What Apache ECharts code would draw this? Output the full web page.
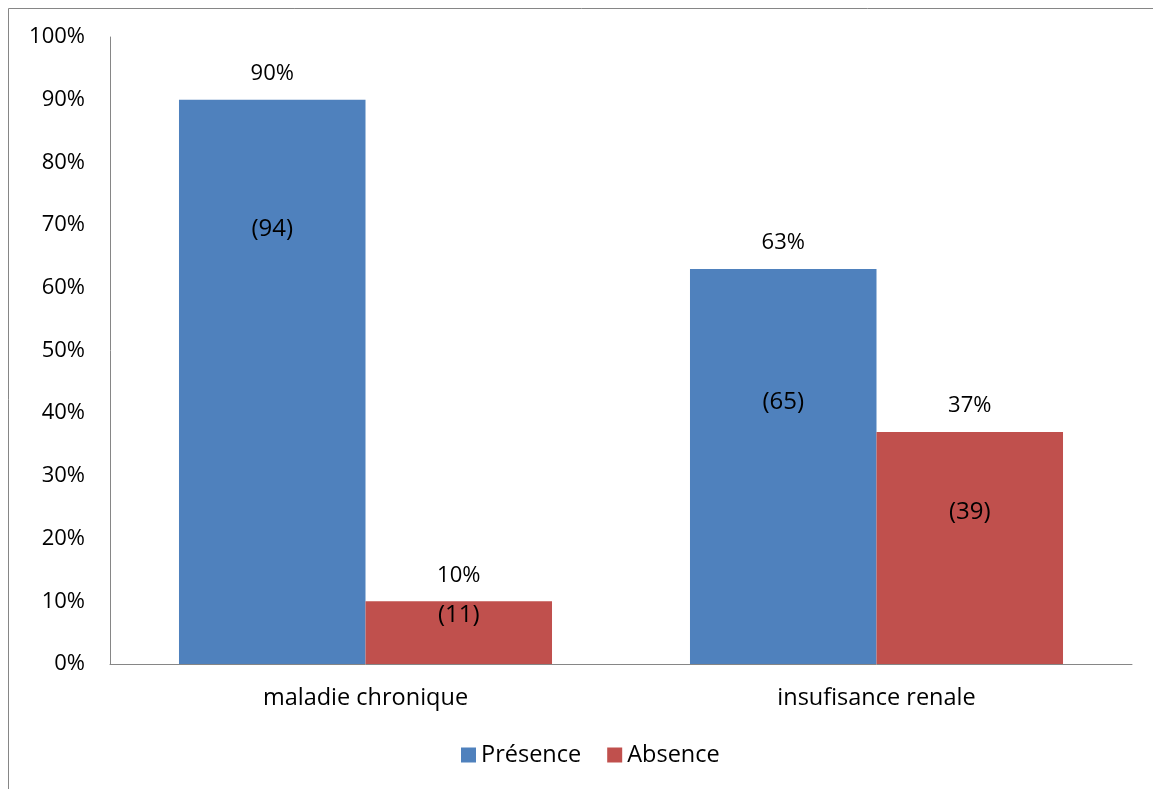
<!DOCTYPE html>
<html>
<head>
<meta charset="utf-8">
<script src="https://cdn.jsdelivr.net/npm/echarts@6/dist/echarts.min.js"></script>
<style>
html, body { margin: 0; padding: 0; background: #fff; }
#chart { width: 1153px; height: 789px; }
</style>
</head>
<body>
<div id="chart"></div>
<script>
// Categories and values
const categories = ['maladie chronique', 'insufisance renale'];
const presencePct = [90, 63];
const absencePct = [10, 37];
const presenceCount = [94, 65];
const absenceCount = [11, 39];
const yTicks = [0, 10, 20, 30, 40, 50, 60, 70, 80, 90, 100];

// Vertical offsets (px) of the count labels below each bar top
const presenceCountOffset = [112, 116];
const absenceCountOffset = [-3, 63];

const FONT = '"Open Sans", sans-serif';
const FS_NUM = 22;
const FS_CAT = 23.5;
const FS_COUNT = 24;
const BLUE = '#4F81BD';
const RED = '#C0504D';
const AXIS = '#868686';

const chart = echarts.init(document.getElementById('chart'), null, { renderer: 'canvas' });

function countItems(values, counts, offsets) {
  return values.map((v, i) => ({
    value: v,
    label: {
      show: true,
      position: 'insideTop',
      distance: 5,
      offset: [0, offsets[i]],
      formatter: '(' + counts[i] + ')'
    }
  }));
}

const grid = { left: 110, right: 21, top: 37, bottom: 125 };

const option = {
  animation: false,
  backgroundColor: '#fff',
  textStyle: { fontFamily: FONT },
  graphic: [{
    type: 'rect',
    shape: { x: 8.5, y: 8.5, width: 1300, height: 900 },
    style: { fill: 'none', stroke: AXIS, lineWidth: 1 },
    silent: true, z: -10
  }],
  legend: {
    top: 738,
    left: 456,
    itemWidth: 15,
    itemHeight: 15,
    itemGap: 26,
    icon: 'rect',
    textStyle: { fontFamily: FONT, fontSize: FS_CAT, color: '#000' },
    data: ['Présence', 'Absence']
  },
  grid: grid,
  xAxis: [{
    type: 'category',
    data: categories,
    axisLine: { lineStyle: { color: AXIS, width: 1 } },
    axisTick: { show: false },
    axisLabel: { color: '#000', fontSize: FS_CAT, fontFamily: FONT, margin: 22 }
  }, {
    type: 'category',
    data: categories,
    show: false
  }],
  yAxis: {
    type: 'value',
    min: yTicks[0],
    max: yTicks[yTicks.length - 1],
    interval: 10,
    axisLine: { show: true, lineStyle: { color: AXIS, width: 1 } },
    axisTick: { show: false },
    splitLine: { show: false },
    axisLabel: { color: '#000', fontSize: FS_NUM, fontFamily: FONT, margin: 25, formatter: '{value}%' }
  },
  series: [{
    name: 'Présence',
    type: 'bar',
    xAxisIndex: 0,
    data: presencePct,
    itemStyle: { color: BLUE },
    barGap: '0%',
    barCategoryGap: '27%',
    label: { show: true, position: 'top', distance: 15, color: '#000', fontSize: FS_NUM, fontFamily: FONT, formatter: '{c}%' }
  }, {
    name: 'Absence',
    type: 'bar',
    xAxisIndex: 0,
    data: absencePct,
    itemStyle: { color: RED },
    barGap: '0%',
    barCategoryGap: '27%',
    label: { show: true, position: 'top', distance: 15, color: '#000', fontSize: FS_NUM, fontFamily: FONT, formatter: '{c}%' }
  }, {
    // count labels drawn over the same bars
    name: 'PrésenceCount',
    type: 'bar',
    xAxisIndex: 1,
    data: countItems(presencePct, presenceCount, presenceCountOffset),
    itemStyle: { color: 'rgba(0,0,0,0)' },
    barGap: '0%',
    barCategoryGap: '27%',
    label: { color: '#000', fontSize: FS_COUNT, fontFamily: FONT },
    silent: true, z: 5
  }, {
    name: 'AbsenceCount',
    type: 'bar',
    xAxisIndex: 1,
    data: countItems(absencePct, absenceCount, absenceCountOffset),
    itemStyle: { color: 'rgba(0,0,0,0)' },
    barGap: '0%',
    barCategoryGap: '27%',
    label: { color: '#000', fontSize: FS_COUNT, fontFamily: FONT },
    silent: true, z: 5
  }]
};

chart.setOption(option);
</script>
</body>
</html>
